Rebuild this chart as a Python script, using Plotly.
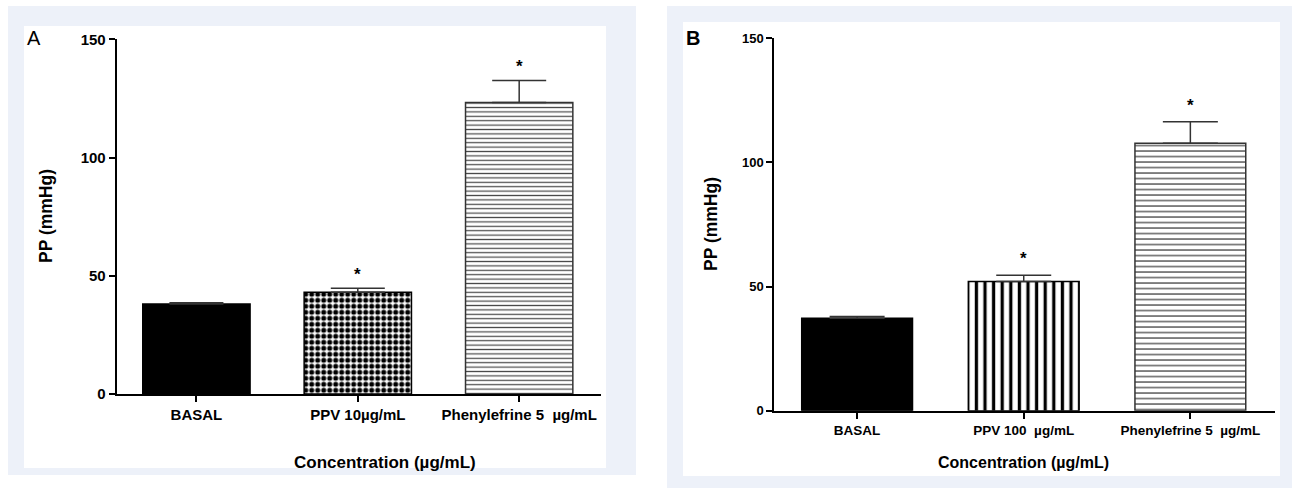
import plotly.graph_objects as go

# ---------------- data ----------------
cats_a = ["BASAL", "PPV 10µg/mL", "Phenylefrine 5  µg/mL"]
vals_a = [38.1, 43.0, 123.3]
err_a = [0.5, 1.7, 9.3]
sig_a = [False, True, True]

cats_b = ["BASAL", "PPV 100  µg/mL", "Phenylefrine 5  µg/mL"]
vals_b = [37.2, 52.0, 107.7]
err_b = [0.7, 2.6, 8.7]
sig_b = [False, True, True]

y_ticks = [0, 50, 100, 150]

W, H = 1295, 488
BG = "#edf1f9"

# per-bar fill styles (solid, checker/dots, stripes)
styles_a = [
    dict(color="black", pattern=dict(shape="")),
    dict(color="white", pattern=dict(shape=".", fgcolor="black", bgcolor="white",
                                     size=6, solidity=0.55, fillmode="replace")),
    dict(color="white", pattern=dict(shape="-", fgcolor="#4a4a4a", bgcolor="white",
                                     size=4.4, solidity=0.28, fillmode="replace")),
]
styles_b = [
    dict(color="black", pattern=dict(shape="")),
    dict(color="white", pattern=dict(shape="|", fgcolor="black", bgcolor="white",
                                     size=8.6, solidity=0.38, fillmode="replace")),
    dict(color="white", pattern=dict(shape="-", fgcolor="#3a3a3a", bgcolor="white",
                                     size=5.5, solidity=0.22, fillmode="replace")),
]


def px_x(p):
    return p / W


def px_y(p):
    return 1 - p / H


fig = go.Figure()

for cats, vals, errs, styles, xa, ya, capw in [
    (cats_a, vals_a, err_a, styles_a, "x", "y", 27),
    (cats_b, vals_b, err_b, styles_b, "x2", "y2", 27.5),
]:
    for c, v, e, st in zip(cats, vals, errs, styles):
        fig.add_trace(go.Bar(
            x=[c], y=[v], width=0.665, xaxis=xa, yaxis=ya,
            marker=dict(color=st["color"], pattern=st["pattern"],
                        line=dict(color="#333" if st["pattern"]["shape"] == "-" else "black",
                                  width=1.5)),
            error_y=dict(type="data", array=[e], arrayminus=[0], symmetric=False,
                         color="#333", thickness=1.5, width=capw),
            showlegend=False, hoverinfo="skip",
        ))

shapes = [
    dict(type="rect", xref="paper", yref="paper", x0=px_x(8), x1=px_x(636),
         y0=px_y(475), y1=px_y(6), fillcolor=BG, line=dict(width=0), layer="below"),
    dict(type="rect", xref="paper", yref="paper", x0=px_x(24), x1=px_x(606),
         y0=px_y(468), y1=px_y(26), fillcolor="white", line=dict(width=0), layer="below"),
    dict(type="rect", xref="paper", yref="paper", x0=px_x(667), x1=px_x(1292),
         y0=px_y(488), y1=px_y(6), fillcolor=BG, line=dict(width=0), layer="below"),
    dict(type="rect", xref="paper", yref="paper", x0=px_x(683), x1=px_x(1280),
         y0=px_y(476), y1=px_y(22), fillcolor="white", line=dict(width=0), layer="below"),
]

F = "Liberation Sans, Arial, sans-serif"

annotations = [
    dict(text="A", xref="paper", yref="paper", x=px_x(25), y=px_y(25),
         xanchor="left", yanchor="top", showarrow=False,
         font=dict(family=F, size=20, color="black")),
    dict(text="<b>B</b>", xref="paper", yref="paper", x=px_x(684), y=px_y(25),
         xanchor="left", yanchor="top", showarrow=False,
         font=dict(family=F, size=20, color="black")),
    dict(text="<b>PP (mmHg)</b>", xref="paper", yref="paper", x=px_x(46), y=px_y(216),
         textangle=-90, showarrow=False, xanchor="center", yanchor="middle",
         font=dict(family=F, size=17.5, color="black")),
    dict(text="<b>PP (mmHg)</b>", xref="paper", yref="paper", x=px_x(711), y=px_y(224),
         textangle=-90, showarrow=False, xanchor="center", yanchor="middle",
         font=dict(family=F, size=17.5, color="black")),
    dict(text="<b>Concentration (µg/mL)</b>", xref="paper", yref="paper",
         x=px_x(385), y=px_y(462), showarrow=False, xanchor="center", yanchor="middle",
         font=dict(family=F, size=17, color="black")),
    dict(text="<b>Concentration (µg/mL)</b>", xref="paper", yref="paper",
         x=px_x(1023), y=px_y(462), showarrow=False, xanchor="center", yanchor="middle",
         font=dict(family=F, size=16, color="black")),
]

for c, v, e, s in zip(cats_a, vals_a, err_a, sig_a):
    if s:
        annotations.append(dict(text="<b>*</b>", x=c, y=v + e, xref="x", yref="y",
                                showarrow=False, yanchor="bottom", yshift=2,
                                font=dict(family=F, size=17, color="black")))
for c, v, e, s in zip(cats_b, vals_b, err_b, sig_b):
    if s:
        annotations.append(dict(text="<b>*</b>", x=c, y=v + e, xref="x2", yref="y2",
                                showarrow=False, yanchor="bottom", yshift=5,
                                font=dict(family=F, size=17, color="black")))

axis_common = dict(showgrid=False, zeroline=False, showline=True, linecolor="black",
                   linewidth=2, ticks="outside", ticklen=6, tickwidth=2, tickcolor="black",
                   automargin=False, fixedrange=True)

fig.update_layout(
    autosize=True,
    margin=dict(l=0, r=0, t=0, b=0, pad=0),
    paper_bgcolor="white", plot_bgcolor="rgba(0,0,0,0)",
    barmode="overlay",
    shapes=shapes,
    annotations=annotations,
    xaxis=dict(domain=[px_x(116.7), px_x(601)], anchor="y", range=[-0.494, 2.507],
               type="category", categoryorder="array", categoryarray=cats_a,
               tickvals=cats_a, ticktext=[f"<b>{c}</b>" for c in cats_a],
               tickfont=dict(family=F, size=15, color="black"), **axis_common),
    yaxis=dict(domain=[px_y(394), px_y(39.3)], anchor="x", range=[0, 150],
               tickvals=y_ticks, ticktext=[f"<b>{t}</b>" for t in y_ticks],
               tickfont=dict(family=F, size=15, color="black"), **axis_common),
    xaxis2=dict(domain=[px_x(774.3), px_x(1275)], anchor="y2", range=[-0.497, 2.508],
                type="category", categoryorder="array", categoryarray=cats_b,
                tickvals=cats_b, ticktext=[f"<b>{c}</b>" for c in cats_b],
                tickfont=dict(family=F, size=13.5, color="black"), **axis_common),
    yaxis2=dict(domain=[px_y(410.7), px_y(38.3)], anchor="x2", range=[0, 150],
                tickvals=y_ticks, ticktext=[f"<b>{t}</b>" for t in y_ticks],
                tickfont=dict(family=F, size=13, color="black"), **axis_common),
)

post = (
    "document.documentElement.style.margin='0';"
    "document.documentElement.style.overflow='hidden';"
    "document.body.style.margin='0';document.body.style.overflow='hidden';"
    "var gd=document.getElementById('{plot_id}');"
    "gd.style.width='100vw';gd.style.height='100vh';"
    "Plotly.Plots.resize(gd);"
)

fig.write_html("out.html", default_width="100vw", default_height="100vh",
               config={"displayModeBar": False, "responsive": True},
               post_script=post)
